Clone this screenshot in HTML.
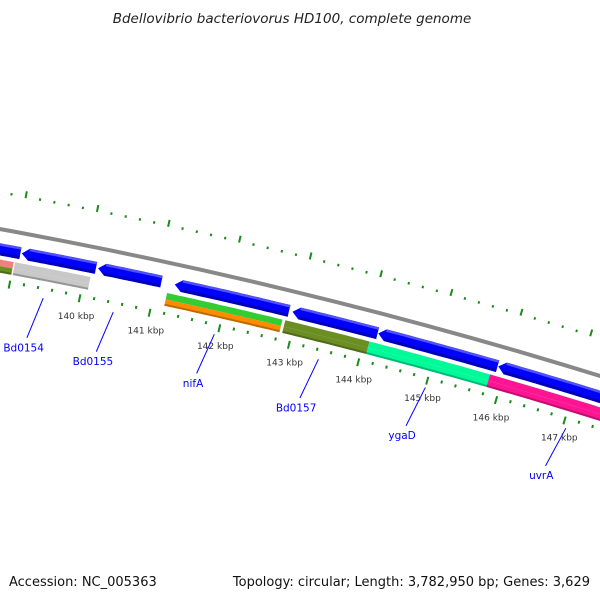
<!DOCTYPE html>
<html><head><meta charset="utf-8">
<style>
html,body{margin:0;padding:0;background:#fff;}
svg{display:block;font-family:"DejaVu Sans","Liberation Sans",sans-serif;}
</style></head>
<body>
<svg id="map" width="600" height="600" viewBox="0 0 600 600" xmlns="http://www.w3.org/2000/svg">
<rect width="600" height="600" fill="#fff"/>
<text x="292" y="23" text-anchor="middle" font-size="13.5" font-style="italic" fill="#222">Bdellovibrio bacteriovorus HD100, complete genome</text>
<g id="rings"></g>
<text x="9" y="586" font-size="13" fill="#111">Accession: NC_005363</text>
<text x="590" y="586" text-anchor="end" font-size="13" fill="#111">Topology: circular; Length: 3,782,950 bp; Genes: 3,629</text>
</svg>
<script>
// data
const blueGeneStarts = [138.3, 139.09, 140.17, 141.26, 142.94, 144.17, 145.9];
const blueGeneEnds   = [139.07, 140.14, 141.07, 142.89, 144.16, 145.89, 148.2];
const cogGeneStarts = [138.3, 139.02, 141.18, 142.87, 144.08, 145.82];
const cogGeneEnds   = [139.0, 140.09, 142.83, 144.08, 145.82, 148.3];
const cogColorsTop  = ['#f08080','#c8c8c8','#33cc33','#6b8e23','#00fa9a','#ff1493'];
const cogColorsBot  = ['#6b8e23','#c8c8c8','#ff8c00','#6b8e23','#00fa9a','#ff1493'];
const tickKbp = [140,141,142,143,144,145,146,147];
const tickLabels = ['140 kbp','141 kbp','142 kbp','143 kbp','144 kbp','145 kbp','146 kbp','147 kbp'];
const geneLabelNames = ['Bd0154','Bd0155','nifA','Bd0157','ygaD','uvrA'];
const geneLabelKbp = [139.5, 140.5, 141.95, 143.45, 145.0, 147.05];

// axis functions
const CX=-929, CY=5323;
function ang(k){ return (11.35 + (k-140)*0.799) * Math.PI/180; }
function pt(r,k){ const a=ang(k); return [CX + r*Math.sin(a), CY - r*Math.cos(a)]; }
const NS='http://www.w3.org/2000/svg';
const g=document.getElementById('rings');
function mk(tag,attrs){ const e=document.createElementNS(NS,tag); for(const k in attrs) e.setAttribute(k,attrs[k]); g.appendChild(e); return e; }
function arcPts(r,k0,k1){ const n=20, out=[]; for(let i=0;i<=n;i++){ out.push(pt(r,k0+(k1-k0)*i/n)); } return out; }
function band(r0,r1,k0,k1,fill,arrow){
  let ptsA=arcPts(r1,k0,k1), ptsB=arcPts(r0,k1,k0);
  let all;
  if(arrow){
    const ah=0.1;
    ptsA=arcPts(r1,k0+ah,k1); ptsB=arcPts(r0,k1,k0+ah);
    all=ptsA.concat(ptsB).concat([pt((r0+r1)/2,k0)]);
  } else all=ptsA.concat(ptsB);
  return mk('polygon',{points:all.map(p=>p[0].toFixed(1)+','+p[1].toFixed(1)).join(' '),fill:fill});
}

// outer tick ring
for(let k=138.6;k<=148.4;k+=0.2){
  const kk=Math.round(k*5)/5;
  const major=Math.abs(kk-Math.round(kk))<0.01;
  const a=pt(5213,kk), b=pt(major?5220:5215.5,kk);
  const t=mk('line',{x1:a[0],y1:a[1],x2:b[0],y2:b[1],stroke:'#1a8a1a','stroke-width':2});
  
  
}
// backbone
{
  const p=arcPts(5178,137,150);
  const l=mk('polyline',{points:p.map(q=>q.join(',')).join(' '),fill:'none',stroke:'#888','stroke-width':4});
  
  
}
// blue genes
for(let i=0;i<blueGeneStarts.length;i++){
  const b=band(5152,5164,blueGeneStarts[i],blueGeneEnds[i],'#0000ff',true);
  
  
  const d=band(5152,5155,blueGeneStarts[i]+0.1,blueGeneEnds[i],'#0000b8',false);
  
  
  const h=band(5161.5,5164,blueGeneStarts[i]+0.1,blueGeneEnds[i],'#5050ff',false);
  
  
}
// cog genes
for(let i=0;i<cogGeneStarts.length;i++){
  const t=band(5141.5,5148,cogGeneStarts[i],cogGeneEnds[i],cogColorsTop[i],false);
  
  
  const b=band(5135,5141.5,cogGeneStarts[i],cogGeneEnds[i],cogColorsBot[i],false);
  
  
  const s=band(5135,5137,cogGeneStarts[i],cogGeneEnds[i],'rgba(0,0,0,0.25)',false);
  
  
}
// inner tick ring
for(let k=138.4;k<=148.4;k+=0.2){
  const kk=Math.round(k*5)/5;
  const major=Math.abs(kk-Math.round(kk))<0.01;
  const a=pt(5129,kk), b=pt(major?5121:5126,kk);
  const t=mk('line',{x1:a[0],y1:a[1],x2:b[0],y2:b[1],stroke:'#1a8a1a','stroke-width':2});
  
  
}
// tick labels
for(let i=0;i<tickKbp.length;i++){
  const p=pt(5107,tickKbp[i]);
  const t=mk('text',{x:p[0],y:p[1]+3,'text-anchor':'middle','font-size':9,fill:'#333'});
  t.textContent=tickLabels[i];
  
  
}
// gene labels
for(let i=0;i<geneLabelNames.length;i++){
  const a=pt(5118,geneLabelKbp[i]), b=pt(5076,geneLabelKbp[i]-0.12);
  const l=mk('line',{x1:a[0],y1:a[1],x2:b[0],y2:b[1],stroke:'#0000ff','stroke-width':1});
  
  
  const c=pt(5066,geneLabelKbp[i]-0.14);
  const t=mk('text',{x:c[0],y:c[1]+4,'text-anchor':'middle','font-size':10.5,fill:'#0000ff'});
  t.textContent=geneLabelNames[i];
  
  
}
</script>
</body></html>
